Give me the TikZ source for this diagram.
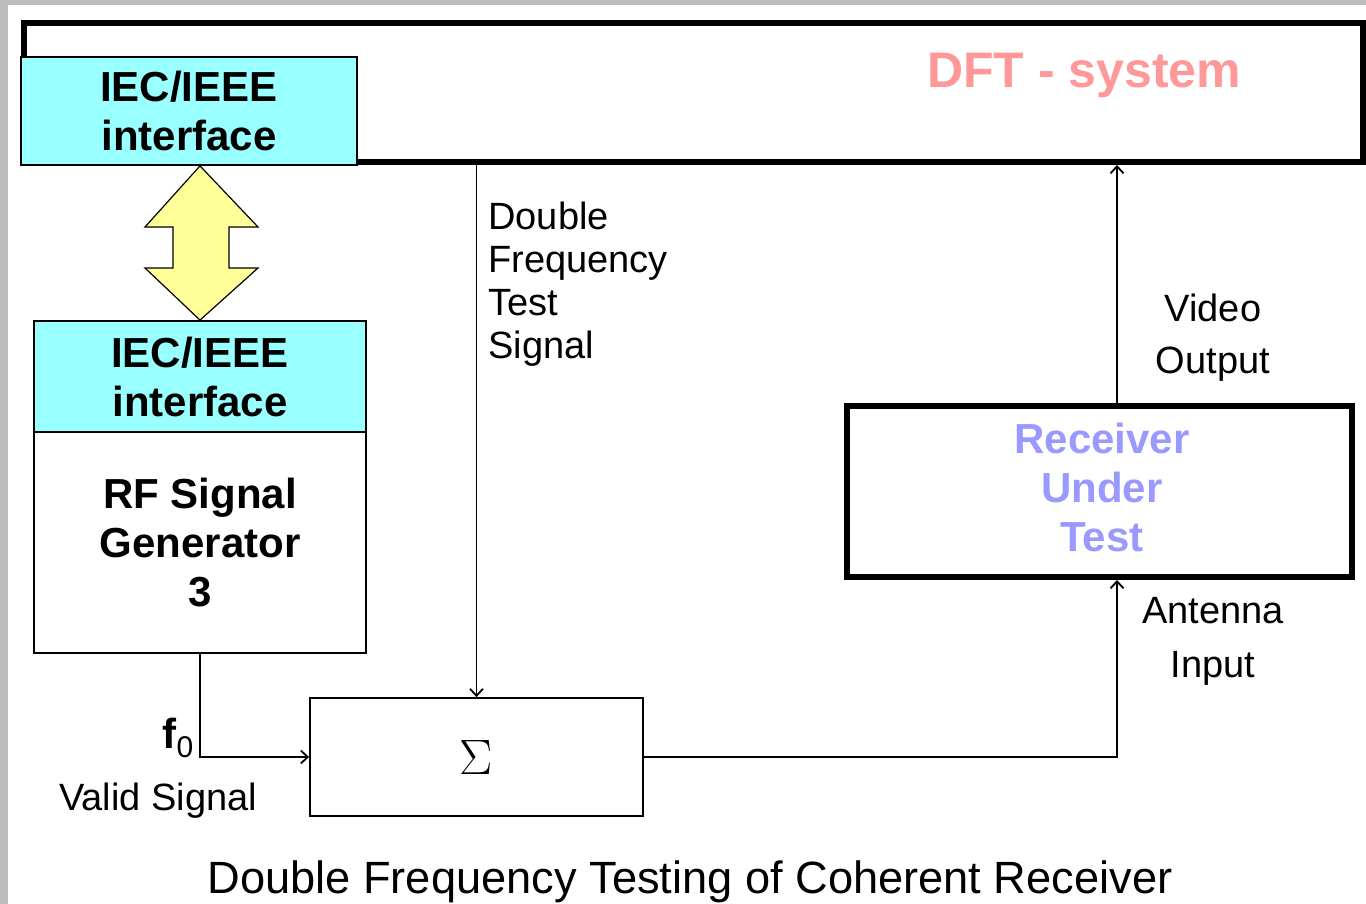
\documentclass[tikz,border=0pt]{standalone}
\usepackage{fontspec}
\setmainfont{Liberation Sans}
\usetikzlibrary{arrows.meta}

\definecolor{slidegray}{HTML}{BEBEBE}
\definecolor{ifcyan}{HTML}{99FFFF}
\definecolor{busyellow}{HTML}{FFFF99}
\definecolor{dftpink}{HTML}{FF9999}
\definecolor{rutblue}{HTML}{9999FF}

\tikzset{
  heavybox/.style={draw, line width=3pt, fill=white, inner sep=0pt, align=center},
  ifbox/.style={draw, line width=0.9pt, fill=ifcyan, inner sep=0pt, align=center,
    font=\bfseries\fontsize{21}{24.5}\selectfont},
  plainbox/.style={draw, line width=0.9pt, fill=white, inner sep=0pt, align=center},
  boldtext/.style={font=\bfseries\fontsize{21}{24.5}\selectfont},
  lbl/.style={inner sep=0pt, font=\fontsize{19}{21.5}\selectfont},
  arr/.style={line width=0.9pt, -{Straight Barb[length=3.5pt,width=6.5pt]}},
}

\begin{document}
\begin{tikzpicture}[x=0.5pt,y=-0.5pt]
\useasboundingbox (0,0) rectangle (1366,904);

% slide background
\fill[slidegray] (0,0) rectangle (1366,904);
\fill[white] (8,5) rectangle (1366,904);

% DFT system frame with its bus interface
\node[heavybox, minimum width=669.5pt, minimum height=69.5pt] (dft) at (693.5,92.5) {};
\node[ifbox, minimum width=168pt, minimum height=54pt] (iec1) at (189,111) {IEC/IEEE\\interface};
\node[inner sep=0pt, text=dftpink, font=\bfseries\fontsize{25}{25}\selectfont] (dftname) at (1084,75) {DFT - system};

% signal generator with its interface
\node[ifbox, minimum width=166pt, minimum height=55.5pt] (iec2) at (200,376.5) {IEC/IEEE\\interface};
\node[plainbox, boldtext, minimum width=166pt, minimum height=110.5pt] (gen) at (200,542.5) {RF Signal\\Generator\\3};

% bus link between the two interfaces
\draw[fill=busyellow, line width=0.6pt]
  (iec2.north |- iec1.south) -- (258,227) -- (229,227) -- (229,268) -- (258,268)
  -- (iec2.north) -- (145,268) -- (173,268) -- (173,227) -- (145,227) -- cycle;

% summing block
\node[plainbox, minimum width=166.5pt, minimum height=59pt,
      font=\fontsize{25}{25}\selectfont] (sum) at (476.5,757) {$\Sigma$};

% receiver under test
\node[heavybox, minimum width=252.5pt, minimum height=85.5pt] (rut) at (1099.5,491.5) {};
\node[inner sep=0pt, align=center, text=rutblue, boldtext] (rutname) at (1102,487) {Receiver\\Under\\Test};

% connectors
\coordinate (tap) at (1117,0);
\draw[arr] (sum.north |- dft.south) -- (sum.north);
\draw[arr] (gen.south) |- (sum.west);
\draw[arr] (sum.east) -| (rut.south -| tap);
\draw[arr] (rut.north -| tap) -- (dft.south -| tap);

% labels
\node[lbl, align=left, anchor=west] (dfts) at (488,284.5) {Double\\Frequency\\Test\\Signal};
\node[lbl, align=center, font=\fontsize{19}{26}\selectfont] (vout) at (1213,338) {Video\\Output};
\node[lbl, align=center, font=\fontsize{19}{27}\selectfont] (ain) at (1213,641) {Antenna\\Input};
\node[lbl] (valid) at (158,801) {Valid Signal};
\node[lbl] (fzero) at (178,738) {{\bfseries\fontsize{21}{21}\selectfont f}\raisebox{-0.45ex}{\fontsize{15}{15}\selectfont 0}};
\node[inner sep=0pt, font=\fontsize{22.6}{22.6}\selectfont] (caption) at (690,882) {Double Frequency Testing of Coherent Receiver};
\end{tikzpicture}
\end{document}
